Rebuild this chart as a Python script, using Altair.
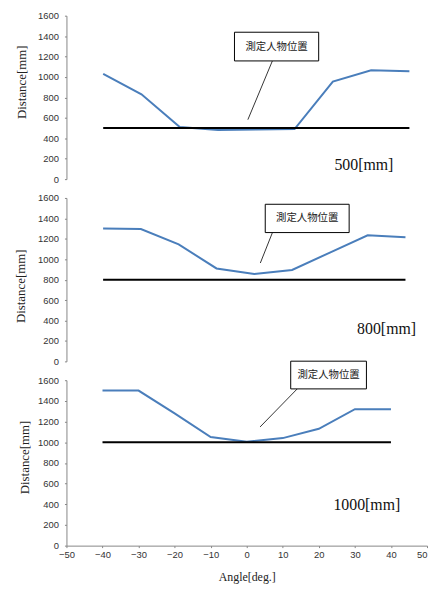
import altair as alt
import pandas as pd

# ---- data ----
angles = [-40, -30, -20, -10, 0, 10, 20, 30, 40]
dist_500 = [1030, 830, 510, 482, 485, 490, 955, 1065, 1057]
dist_800 = [1300, 1295, 1145, 910, 855, 895, 1065, 1235, 1215]
dist_1000 = [1500, 1500, 1280, 1050, 1005, 1040, 1130, 1320, 1318]
reference = [500, 800, 1000]
panel_labels = ["500[mm]", "800[mm]", "1000[mm]"]
annot_text = "測定人物位置"
y_ticks = [0, 200, 400, 600, 800, 1000, 1200, 1400, 1600]
x_ticks = [-50, -40, -30, -20, -10, 0, 10, 20, 30, 40, 50]

# annotation anchors in data units
label_x = [28.1, 35.0, 33.3]
label_y = [136, 316, 391]
box_x1 = [-5.7, 2.9, 12.2]
box_x2 = [16.3, 25.1, 33.2]
box_y1 = [1157, 1261, 1516]
box_y2 = [1438, 1538, 1784]
lead_x1 = [4.2, 4.8, 14.0]
lead_y1 = [1157, 1261, 1516]
lead_x2 = [-2.2, 1.6, 3.7]
lead_y2 = [582, 963, 1148]

# layout / style (not data)
x_domains = [[-49.6, 44.6], [-49.7, 45.7], [-50, 50]]
heights = [165, 165, 167]
title_x = [-38.7, -39.7, -35.4]
title_y = [66.7, 88.7, 77.5]
W = 364
AX = "#868686"
SANS = "Liberation Sans"
SERIF = "Liberation Serif"
BLUE = "#4A7EBB"

series = [dist_500, dist_800, dist_1000]


def panel(i):
    last = i == 2
    xs = alt.Scale(domain=x_domains[i], nice=False, zero=False)
    ys = alt.Scale(domain=[0, 1600], nice=False)
    if last:
        xaxis = alt.Axis(values=x_ticks, grid=False, domainColor=AX, tickColor=AX,
                         tickSize=2, labelPadding=2, labelFont=SANS, labelFontSize=9.5,
                         labelColor="#333", title="Angle[deg.]", titleFont=SERIF,
                         titleFontSize=12, titleFontWeight="normal", titleColor="#222",
                         titlePadding=13, labelFlush=False, format="d",
                         labelAlign={"condition": {"test": "datum.value === 50",
                                                   "value": "right"},
                                     "value": "center"})
    else:
        xaxis = None
    yaxis = alt.Axis(values=y_ticks, grid=False, domainColor=AX, tickColor=AX,
                     tickSize=2, labelPadding=6, labelFont=SANS, labelFontSize=9.5,
                     labelColor="#333", title="Distance[mm]", titleFont=SERIF,
                     titleFontSize=13, titleFontWeight="normal", titleColor="#222",
                     titleX=title_x[i], titleY=title_y[i], format="d")

    rows = []
    for a, d in zip(angles, series[i]):
        rows.append({"angle": a, "val": d, "kind": "meas"})
    for a in angles:
        rows.append({"angle": a, "val": reference[i], "kind": "ref"})
    df = pd.DataFrame(rows)

    X = alt.X("angle:Q", scale=xs, axis=xaxis)
    Y = alt.Y("val:Q", scale=ys, axis=yaxis)
    lines = alt.Chart(df).mark_line(strokeWidth=2).encode(
        x=X, y=Y,
        color=alt.Color("kind:N", scale=alt.Scale(domain=["ref", "meas"],
                                                  range=["black", BLUE]), legend=None),
        order=alt.Order("angle:Q"))

    ann = pd.DataFrame({"bx1": [box_x1[i]], "bx2": [box_x2[i]],
                        "by1": [box_y1[i]], "by2": [box_y2[i]],
                        "lx1": [lead_x1[i]], "ly1": [lead_y1[i]],
                        "lx2": [lead_x2[i]], "ly2": [lead_y2[i]],
                        "tx": [(box_x1[i] + box_x2[i]) / 2],
                        "ty": [(box_y1[i] + box_y2[i]) / 2],
                        "txt": [annot_text],
                        "px": [label_x[i]], "py": [label_y[i]],
                        "plab": [panel_labels[i]]})
    ab = alt.Chart(ann)
    lead = ab.mark_rule(color="black", strokeWidth=0.8).encode(
        x=alt.X("lx1:Q", scale=xs, axis=xaxis), y=alt.Y("ly1:Q", scale=ys, axis=yaxis),
        x2="lx2:Q", y2="ly2:Q")
    box = ab.mark_rect(fill="white", stroke="black", strokeWidth=1).encode(
        x=alt.X("bx1:Q", scale=xs, axis=xaxis), x2="bx2:Q",
        y=alt.Y("by1:Q", scale=ys, axis=yaxis), y2="by2:Q")
    btxt = ab.mark_text(font="Noto Sans CJK JP", fontSize=10.5, color="#222",
                        align="center", baseline="middle").encode(
        x=alt.X("tx:Q", scale=xs, axis=xaxis), y=alt.Y("ty:Q", scale=ys, axis=yaxis),
        text="txt:N")
    plab = ab.mark_text(font=SERIF, fontSize=16, color="#111",
                        align="center", baseline="middle").encode(
        x=alt.X("px:Q", scale=xs, axis=xaxis), y=alt.Y("py:Q", scale=ys, axis=yaxis),
        text="plab:N")
    return alt.layer(lines, lead, box, btxt, plab).properties(
        width=W, height=heights[i])


chart = alt.vconcat(panel(0), panel(1), panel(2), spacing=19, bounds="flush").properties(
    padding={"left": 6, "top": 0, "right": 0, "bottom": 0}
).resolve_scale(color="independent").configure_view(stroke=None)

chart.save("out.html", embed_options={"renderer": "svg", "actions": False})
